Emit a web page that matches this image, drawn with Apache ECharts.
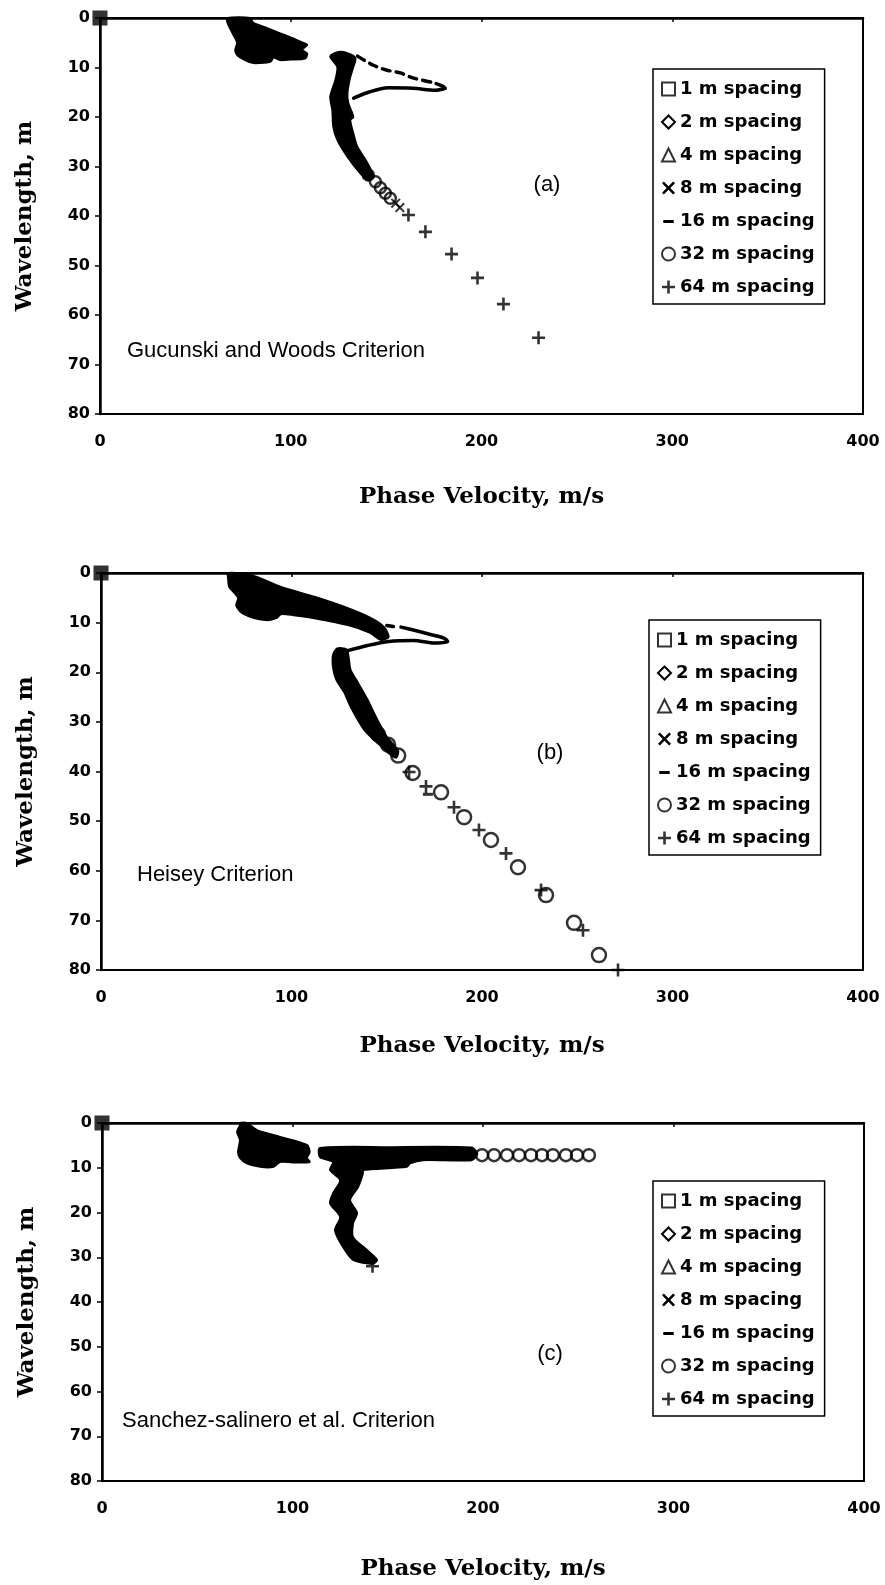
<!DOCTYPE html>
<html>
<head>
<meta charset="utf-8">
<script src="https://cdn.jsdelivr.net/npm/echarts@6/dist/echarts.min.js"></script>
<style>
  html, body { margin: 0; padding: 0; background: #fff; }
  #chart { width: 885px; height: 1585px; }
</style>
</head>
<body>
<div id="chart"></div>
<script>
// Dispersion curves: phase velocity (m/s) vs wavelength (m) under three
// near-field filtering criteria. Dense overlapping markers are drawn as
// filled outlines; sparse markers are drawn individually.

const legendNames = ['1 m spacing', '2 m spacing', '4 m spacing', '8 m spacing',
                     '16 m spacing', '32 m spacing', '64 m spacing'];
const xTicks = [0, 100, 200, 300, 400];
const yTicks = [0, 10, 20, 30, 40, 50, 60, 70, 80];
const panelNotes = ['Gucunski and Woods Criterion', 'Heisey Criterion',
                    'Sanchez-salinero et al. Criterion'];
const panelTags = ['(a)', '(b)', '(c)'];

// ---- (a) Gucunski and Woods ----
const originA = [[0, 0]];
const wedgeA = [[66.7,0],[78.7,0],[80.4,1.0],[88,2.1],[94.5,3.1],[101,4.1],[105,4.8],
  [108.6,5.4],[106,6.4],[108.6,7.2],[107.5,8.2],[100,8.4],[94.5,8.5],[91,8.0],[89.5,8.8],
  [87.5,9.0],[84,9.1],[80.4,9.1],[76,8.5],[71.9,7.5],[70.9,6.5],[71.9,5.1],[70.9,4.1],
  [68.2,2.1],[66.7,0.8]];
const bandA = [[124.4,6.9],[120.7,7.8],[124.4,9.9],[123.4,12.5],[120.7,15.9],[121.8,18.6],
  [122.3,22],[124.4,24.6],[129.7,28],[136.5,31.4],[140.2,32.7],[143.3,32.1],[140.2,29.3],
  [134.9,26],[132.8,23.3],[131.2,20.6],[132.8,20],[130.2,17.2],[129.7,15.2],[131.2,11.9],
  [132.8,9.9],[133.9,8.1],[129.7,7.1]];
const loopUpperA = [[135,7.7],[143,9.5],[150,10.5],[157.5,11.1],[164,12.1],[175,13.1],[181,14.0]];
const loopLowerA = [[181,14.2],[176,14.6],[164,14.2],[151,14.1],[140,15.1],[133,16.2]];
const crossA = [[155,37.4],[157.2,38.3]];
const circleA = [[140.7,31.7],[144.4,33.1],[147,34.3],[149.6,35.4],[152.2,36.4]];
const plusA = [[161.7,39.8],[170.6,43.2],[184.3,47.7],[197.9,52.5],[211.5,57.8],[229.9,64.6]];

// ---- (b) Heisey ----
const originB = [[0, 0]];
const wedgeB = [[66.7,0],[78.7,0.4],[94.5,2.8],[112,4.8],[129.6,7.1],[141.7,9.1],[148.6,10.9],
  [151,12.9],[147,13.5],[141,12.0],[129.6,10.5],[112,9.1],[101,8.5],[94.5,8.3],[92,9.1],
  [87.5,9.5],[80.4,9.1],[73.5,7.9],[71,6.5],[72,5],[67.3,2.8],[66.7,1]];
const bandB = [[124,15.2],[121.8,16.5],[121.8,19],[123.5,21.5],[127.6,24],[130.5,26.5],
  [134,29],[138,31.5],[143,33.5],[148,35.2],[152,36.6],[155,37.2],[156,35.8],[150,33],
  [147,31],[143,28],[140,25.6],[135,22.2],[131,19.5],[130,17],[129,15.4]];
const loopUpperB = [[150,10.6],[153.5,10.8]];
const loopLowerB = [[157.5,10.9],[165,11.6],[172,12.3],[180,13.1],[182,13.8],[175,14.1],
  [164,13.6],[151,13.8],[140,14.6],[130,15.6],[125,16.2]];
const dashB = [[171.6,44.6]];
const circleB = [[141,30.5],[145.4,32.5],[150.7,34.6],[156,36.8],[163.6,40.3],[178.5,44.2],
  [190.6,49.2],[204.7,53.8],[218.9,59.3],[233.6,64.9],[248.3,70.5],[261.4,77]];
const plusB = [[161.7,40.1],[170.6,43],[185.3,47.2],[198.4,51.8],[212.6,56.5],[231,63.9],
  [253,72],[271.4,80]];

// ---- (c) Sanchez-Salinero et al. ----
const originC = [[0, 0]];
const wedgeC = [[72.4,0],[76,0],[81.4,1.6],[93.4,3.1],[107.6,4.9],[109,6.5],[107.6,7.8],
  [109,8.7],[100,8.8],[93.4,8.7],[90,9.8],[83,9.8],[76,9.0],[72.4,7.8],[71.4,6.5],
  [72.4,3.8],[70.9,2],[72.4,0.5]];
const bandC = [[114.4,5.6],[150,5.4],[194,5.5],[197,6.9],[194,8.3],[168.5,8.3],[161.7,9.0],
  [160,9.8],[137,10.5],[137,11.2],[134.4,14.3],[130.2,17.2],[133.9,20.1],[131.8,22.4],
  [131.8,25.5],[139.1,28.4],[144.4,30.6],[142,31.5],[131.8,30.6],[126.5,27.7],[122.3,24],
  [125,21],[119.7,17.9],[121.3,15.7],[125,12.8],[119.7,10.5],[121.3,8.7],[114.4,7.6]];
const circleC = [[199.5,7.2],[205.8,7.2],[212.6,7.2],[218.9,7.2],[225.2,7.2],[231,7.2],
  [236.7,7.2],[243.5,7.2],[249.3,7.2],[255.6,7.2]];
const plusC = [[142,32]];

// ---- layout ----
const grids = [
  { left: 100, top: 18, width: 763, height: 396 },
  { left: 101, top: 573, width: 762, height: 397 },
  { left: 102, top: 1123, width: 762, height: 358 }
];
const xNameGap = [72, 65, 77];
const legendPos = [{ left: 653, top: 69 }, { left: 649, top: 620 }, { left: 653, top: 1181 }];
const tagPos = [[547, 185], [550, 753], [550, 1354]];
const notePos = [[127, 351], [137, 875], [122, 1421]];

const PLUS = 'path://M4,0H6V4H10V6H6V10H4V6H0V4H4Z';
const CROSS = 'path://M1.4,0L5,3.6L8.6,0L10,1.4L6.4,5L10,8.6L8.6,10L5,6.4L1.4,10L0,8.6L3.6,5L0,1.4Z';
const DASH = 'path://M0,0h0.05v0.05h-0.05z M9.95,9.95h0.05v0.05h-0.05z M1,4.2H9V6.6H1Z';

const hollow = { color: '#fff', borderColor: '#000', borderWidth: 2 };
const legendData = [
  { name: legendNames[0], icon: 'rect', itemStyle: hollow },
  { name: legendNames[1], icon: 'diamond', itemStyle: hollow },
  { name: legendNames[2], icon: 'triangle', itemStyle: hollow },
  { name: legendNames[3], icon: CROSS, itemStyle: { color: '#000', borderWidth: 0 } },
  { name: legendNames[4], icon: DASH, itemStyle: { color: '#000', borderWidth: 0 } },
  { name: legendNames[5], icon: 'circle', itemStyle: hollow },
  { name: legendNames[6], icon: PLUS, itemStyle: { color: '#000', borderWidth: 0 } }
];

function polygonSeries(name, gi, pts) {
  return {
    type: 'custom', name, xAxisIndex: gi, yAxisIndex: gi, data: pts, silent: true, z: 3,
    renderItem(params, api) {
      if (params.dataIndex !== 0) return null;
      return {
        type: 'polygon',
        shape: { points: pts.map(p => api.coord(p)), smooth: 0.25 },
        style: { fill: '#000', stroke: '#000', lineWidth: 2, lineJoin: 'round' }
      };
    }
  };
}
function scatter(name, gi, data, symbol, size, style, z) {
  return { type: 'scatter', name, xAxisIndex: gi, yAxisIndex: gi, data, symbol,
    symbolSize: size, itemStyle: style, z: z || 4, silent: true };
}
function line(name, gi, data, width, dashed) {
  return { type: 'line', name, xAxisIndex: gi, yAxisIndex: gi, data, symbol: 'none',
    smooth: 0.3, silent: true, z: 3,
    lineStyle: { color: '#000', width, type: dashed ? [8, 6] : 'solid', cap: 'round' } };
}

const black = { color: '#000' };
const ring = { color: 'rgba(255,255,255,0)', borderColor: '#000', borderWidth: 2.5 };

const series = [];
const panels = [
  { origin: originA, wedge: wedgeA, band: bandA, upper: loopUpperA, lower: loopLowerA,
    upperDashed: true, cross: crossA, dash: [], circle: circleA, plus: plusA, ring: 11 },
  { origin: originB, wedge: wedgeB, band: bandB, upper: loopUpperB, lower: loopLowerB,
    upperDashed: false, cross: [], dash: dashB, circle: circleB, plus: plusB, ring: 14 },
  { origin: originC, wedge: wedgeC, band: bandC, upper: [], lower: [],
    upperDashed: false, cross: [], dash: [], circle: circleC, plus: plusC, ring: 12 }
];
panels.forEach((p, gi) => {
  series.push(scatter(legendNames[0], gi, p.origin, 'rect', 15, black, 6));
  series.push(polygonSeries(legendNames[1], gi, p.wedge));
  series.push(scatter(legendNames[2], gi, [], 'triangle', 10, black));
  series.push(polygonSeries(legendNames[3], gi, p.band));
  series.push(scatter(legendNames[3], gi, p.cross, CROSS, 10, black));
  series.push(line(legendNames[4], gi, p.upper, 3.5, p.upperDashed));
  series.push(line(legendNames[4], gi, p.lower, 3.5, false));
  series.push(scatter(legendNames[4], gi, p.dash, 'rect', [10, 3], black));
  series.push(scatter(legendNames[5], gi, p.circle, 'circle', p.ring, ring));
  series.push(scatter(legendNames[6], gi, p.plus, PLUS, 13, black, 5));
});

const axisFont = { fontFamily: 'DejaVu Sans', fontWeight: 'bold', fontSize: 16, color: '#000' };
const titleFont = { fontFamily: 'DejaVu Serif', fontWeight: 'bold', fontSize: 23, color: '#000' };

const option = {
  animation: false,
  backgroundColor: '#fff',
  grid: grids.map(g => Object.assign({ show: true, borderColor: '#000', borderWidth: 2,
    backgroundColor: 'transparent' }, g)),
  xAxis: grids.map((g, i) => ({
    gridIndex: i, type: 'value', min: xTicks[0], max: xTicks[xTicks.length - 1],
    interval: xTicks[1] - xTicks[0],
    name: 'Phase Velocity, m/s', nameLocation: 'middle', nameGap: xNameGap[i],
    nameTextStyle: titleFont,
    axisLine: { lineStyle: { color: '#000', width: 2.5 } },
    axisTick: { length: 4, lineStyle: { color: '#000', width: 1.5 } },
    axisLabel: Object.assign({ margin: 20 }, axisFont),
    splitLine: { show: false }
  })),
  yAxis: grids.map((g, i) => ({
    gridIndex: i, type: 'value', inverse: true, min: yTicks[0], max: yTicks[yTicks.length - 1],
    interval: yTicks[1] - yTicks[0],
    name: 'Wavelength, m', nameLocation: 'middle', nameGap: 63, nameRotate: 90,
    nameTextStyle: titleFont,
    axisLine: { lineStyle: { color: '#000', width: 2.5 } },
    axisTick: { length: 5, lineStyle: { color: '#000', width: 1.5 } },
    axisLabel: Object.assign({ margin: 10 }, axisFont),
    splitLine: { show: false }
  })),
  legend: legendPos.map(pos => ({
    orient: 'vertical', left: pos.left, top: pos.top,
    padding: [11, 10, 8, 8], itemWidth: 13, itemHeight: 13, itemGap: 15,
    borderColor: '#000', borderWidth: 1.5, backgroundColor: '#fff',
    selectedMode: false,
    textStyle: { fontFamily: 'DejaVu Sans', fontWeight: 'bold', fontSize: 18, color: '#000' },
    data: legendData
  })),
  graphic: [
    ...panelTags.map((t, i) => ({
      type: 'text', x: tagPos[i][0], y: tagPos[i][1], z: 10,
      style: { text: t, font: '22px "Liberation Sans"', fill: '#000',
        align: 'center', verticalAlign: 'middle', textAlign: 'center', textVerticalAlign: 'middle' }
    })),
    ...panelNotes.map((t, i) => ({
      type: 'text', x: notePos[i][0], y: notePos[i][1], z: 10,
      style: { text: t, font: '22px "Liberation Sans"', fill: '#000',
        align: 'left', verticalAlign: 'middle', textAlign: 'left', textVerticalAlign: 'middle' }
    }))
  ],
  series
};

const chart = echarts.init(document.getElementById('chart'), null, { renderer: 'canvas' });
chart.setOption(option);
</script>
</body>
</html>
